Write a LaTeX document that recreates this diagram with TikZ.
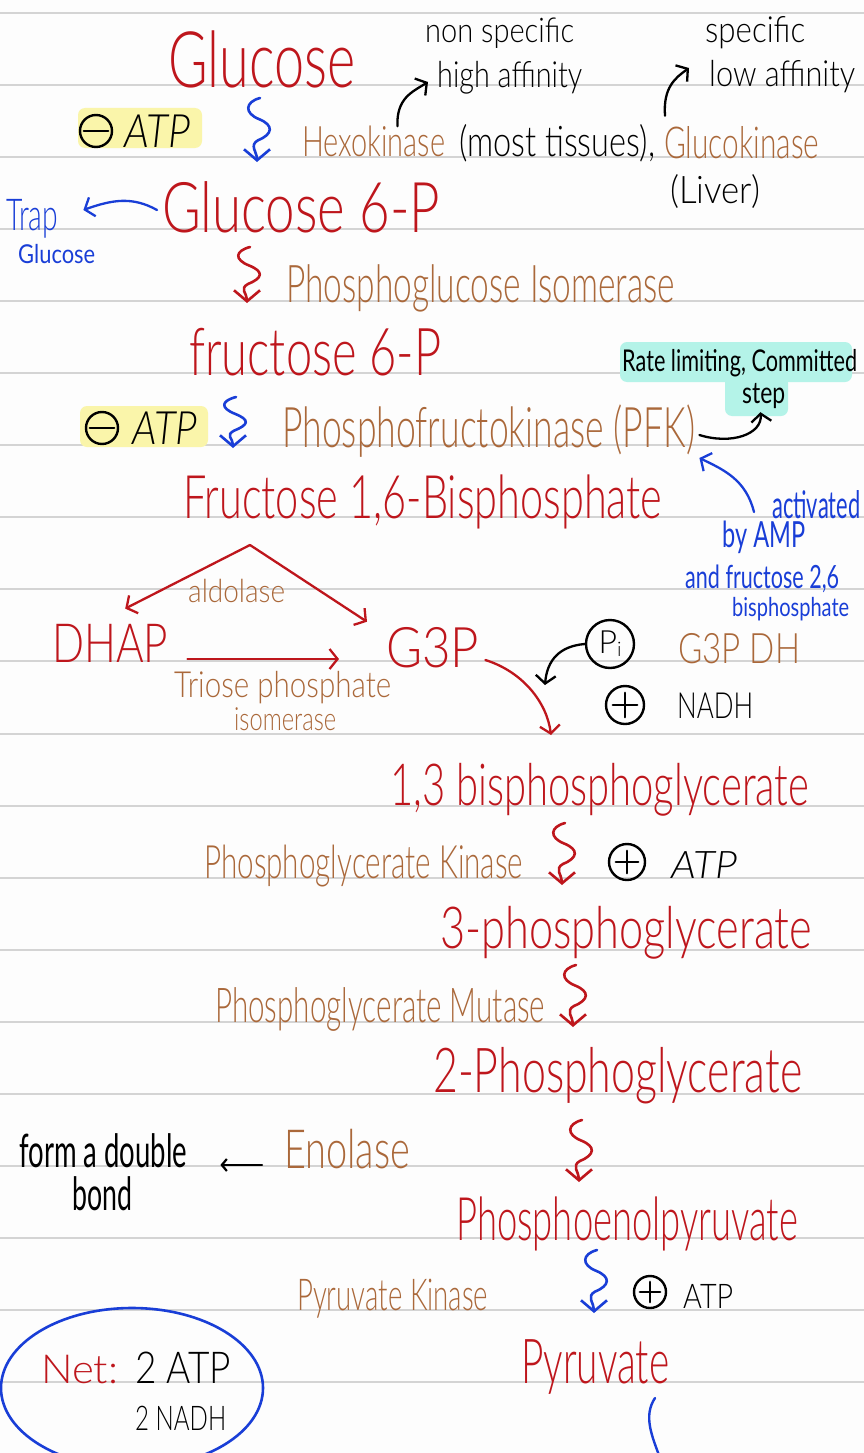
\documentclass[tikz,border=0pt]{standalone}
\usepackage{fontspec}
\setmainfont{Lato Light}
\newfontfamily\inkreg{Lato}
\usepackage{graphicx}
\usetikzlibrary{arrows.meta,calc,shapes.geometric}

\definecolor{inkred}{RGB}{190,22,28}
\definecolor{inkbrown}{RGB}{170,104,58}
\definecolor{inkblue}{RGB}{25,62,215}
\definecolor{hiyellow}{RGB}{250,245,170}
\definecolor{hiteal}{RGB}{180,243,232}
\definecolor{ruling}{RGB}{212,212,212}
\definecolor{paper}{RGB}{253,253,253}

% handwritten-looking word: width in px, font size in px, text
\newcommand\hw[3]{\resizebox{#1pt}{\height}{\fontsize{#2pt}{#2pt}\selectfont #3}}

\begin{document}
\begin{tikzpicture}[x=1pt,y=-1pt,line cap=round,line join=round,
  txt/.style={inner sep=0pt,anchor=base west},
  met/.style={txt,text=inkred},
  enz/.style={txt,text=inkbrown},
  note/.style={txt,text=black},
  bnote/.style={txt,text=inkblue},
  rule/.style={draw=ruling,line width=2pt},
  hly/.style={fill=hiyellow,rounded corners=7pt,inner sep=0pt},
  hlt/.style={fill=hiteal,rounded corners=7pt,inner sep=0pt},
  ring/.style={circle,draw=black,line width=2.4pt,inner sep=0pt},
  >={Straight Barb[length=8pt,width=20pt]},
  squig/.style={-{Straight Barb[length=11pt,width=26pt]},line width=2.6pt,
    to path={.. controls +(-15,4) and +(-15,-6) .. ($(\tikztostart)!0.33!(\tikztotarget)$)
      .. controls +(15,6) and +(15,-6) .. ($(\tikztostart)!0.66!(\tikztotarget)$)
      .. controls +(-9,5) and +(0,-10) .. (\tikztotarget)}},
  redarr/.style={->,draw=inkred,line width=2.3pt},
  blkarr/.style={->,draw=black,line width=2.3pt},
  bluarr/.style={->,draw=inkblue,line width=2.3pt}]

% paper and ruling
\fill[paper] (0,0) rectangle (864,1453);
\useasboundingbox (0,0) rectangle (864,1453);
\foreach \k in {0,...,20}
  \draw[rule] (0,{13+72.05*\k}) -- (864,{13+72.05*\k});

% highlighter marks
\node[hly,minimum width=124pt,minimum height=40pt] (hl1) at (140,128) {};
\node[hly,minimum width=128pt,minimum height=41pt] (hl2) at (144,426.5) {};
\node[hlt,minimum width=232pt,minimum height=40pt] (ratebox) at (736,362) {};
\node[hlt,minimum width=63pt,minimum height=40pt] (stepbox) at (756.5,396) {};

% metabolites
\node[met] (glc)  at (168,88)   {\hw{187}{78}{Glucose}};
\node[met] (g6p)  at (162,232)  {\hw{278}{70}{Glucose 6-P}};
\node[met] (f6p)  at (189,375)  {\hw{252}{66}{fructose 6-P}};
\node[met] (f16)  at (183,518)  {\hw{479}{60}{Fructose 1,6-Bisphosphate}};
\node[met] (dhap) at (52,662)   {\hw{116}{54}{DHAP}};
\node[met] (g3p)  at (386,667)  {\hw{93}{56}{G3P}};
\node[met] (bpg)  at (390,805)  {\hw{419}{58}{1,3 bisphosphoglycerate}};
\node[met] (pg3)  at (440,948)  {\hw{372}{58}{3-phosphoglycerate}};
\node[met] (pg2)  at (433,1092) {\hw{369}{62}{2-Phosphoglycerate}};
\node[met] (pep)  at (456,1240) {\hw{342}{60}{Phosphoenolpyruvate}};
\node[met] (pyr)  at (521,1383) {\hw{148}{62}{Pyruvate}};

% enzymes
\node[enz] (hk)    at (302,157)  {\hw{143}{42}{Hexokinase}};
\node[enz] (gk)    at (664,158)  {\hw{155}{44}{Glucokinase}};
\node[enz] (pgi)   at (286,302)  {\hw{389}{52}{Phosphoglucose Isomerase}};
\node[enz] (pfk)   at (282,447)  {\hw{413}{56}{Phosphofructokinase (PFK)}};
\node[enz] (ald)   at (188,602)  {\hw{97}{32}{aldolase}};
\node[enz] (tpi1)  at (174,697)  {\hw{217}{36}{Triose phosphate}};
\node[enz] (tpi2)  at (234,730)  {\hw{102}{32}{isomerase}};
\node[enz] (g3pdh) at (678,663)  {\hw{122}{42}{G3P DH}};
\node[enz] (pgk)   at (204,878)  {\hw{319}{46}{Phosphoglycerate Kinase}};
\node[enz] (pgm)   at (215,1022) {\hw{330}{48}{Phosphoglycerate Mutase}};
\node[enz] (eno)   at (284,1168) {\hw{126}{54}{Enolase}};
\node[enz] (pk)    at (297,1310) {\hw{191}{44}{Pyruvate Kinase}};

% black notes
\node[note] (nonspec) at (425,43)  {\hw{149}{34}{non specific}};
\node[note] (hiaff)   at (437,88)  {\hw{145}{36}{high affinity}};
\node[note] (spec)    at (705,43)  {\hw{100}{36}{specific}};
\node[note] (lowaff)  at (709,87)  {\hw{146}{36}{low affinity}};
\node[note] (most)    at (459,157) {\hw{196}{42}{(most tissues),}};
\node[note] (liver)   at (670,203) {\hw{90}{38}{(Liver)}};
\node[note] (atp1)    at (124,148) {\hw{66}{46}{\itshape ATP}};
\node[note] (atp2)    at (132,444) {\hw{65}{46}{\itshape ATP}};
\node[note] (rate)    at (622,371) {\hw{235}{30}{\inkreg Rate limiting, Committed}};
\node[note] (step)    at (742,403) {\hw{43}{30}{\inkreg step}};
\node[note] (nadh)    at (677,718) {\hw{76}{36}{NADH}};
\node[note] (atp3)    at (671,878) {\hw{66}{38}{\itshape ATP}};
\node[note] (dbl)     at (19,1167) {\hw{168}{46}{\inkreg form a double}};
\node[note] (bond)    at (72,1210) {\hw{60}{46}{\inkreg bond}};
\node[note] (atp4)    at (683,1308) {\hw{50}{34}{ATP}};

% blue notes
\node[bnote] (trap)    at (6,230)   {\hw{52}{44}{Trap}};
\node[bnote] (trapglc) at (18,263)  {\hw{77}{26}{\inkreg Glucose}};
\node[bnote] (act)     at (772,518) {\hw{88}{38}{\inkreg activated}};
\node[bnote] (byamp)   at (722,547) {\hw{83}{36}{\inkreg by AMP}};
\node[bnote] (andfr)   at (685,588) {\hw{154}{32}{\inkreg and fructose 2,6}};
\node[bnote] (bisp)    at (732,616) {\hw{117}{26}{\inkreg bisphosphate}};

% net yield
\node[ellipse,draw=inkblue,line width=2.6pt,minimum width=262pt,minimum height=160pt,inner sep=0pt] (netbox) at (132,1388) {};
\node[met]  (net)  at (41,1383)  {\hw{77}{40}{Net:}};
\node[note] (net2) at (135,1383) {\hw{96}{44}{2 ATP}};
\node[note] (net3) at (135,1430) {\hw{91}{34}{2 NADH}};

% circled signs
\node[ring,minimum size=32pt] (om1) at (96,131) {};
\draw[line width=2.4pt] ([xshift=5pt]om1.west) -- ([xshift=-5pt]om1.east);
\node[ring,minimum size=32pt] (om2) at (102,428) {};
\draw[line width=2.4pt] ([xshift=5pt]om2.west) -- ([xshift=-5pt]om2.east);
\node[ring,minimum size=38pt] (op1) at (625,705) {};
\draw[line width=2.4pt] ([xshift=8pt]op1.west) -- ([xshift=-8pt]op1.east)
  ([yshift=-8pt]op1.north) -- ([yshift=8pt]op1.south);
\node[ring,minimum size=36pt] (op2) at (627,862) {};
\draw[line width=2.4pt] ([xshift=8pt]op2.west) -- ([xshift=-8pt]op2.east)
  ([yshift=-8pt]op2.north) -- ([yshift=8pt]op2.south);
\node[ring,minimum size=32pt] (op3) at (650,1292) {};
\draw[line width=2.2pt] ([xshift=7pt]op3.west) -- ([xshift=-7pt]op3.east)
  ([yshift=-7pt]op3.north) -- ([yshift=7pt]op3.south);
\node[ring,minimum size=48pt] (pi) at (610,644)
  {\fontsize{32pt}{32pt}\selectfont P\raisebox{-3pt}{\fontsize{20pt}{20pt}\selectfont i}};

% squiggly reaction arrows
\coordinate (s1a) at (260,98);   \coordinate (s1b) at (257,162);
\coordinate (s2a) at (250,247);  \coordinate (s2b) at (247,303);
\coordinate (s3a) at (236,397);  \coordinate (s3b) at (233,448);
\coordinate (s4a) at (565,823);  \coordinate (s4b) at (562,885);
\coordinate (s5a) at (576,965);  \coordinate (s5b) at (573,1027);
\coordinate (s6a) at (582,1120); \coordinate (s6b) at (579,1182);
\coordinate (s7a) at (597,1250); \coordinate (s7b) at (594,1313);
\draw[squig,draw=inkblue] (s1a) to (s1b);
\draw[squig,draw=inkred]  (s2a) to (s2b);
\draw[squig,draw=inkblue] (s3a) to (s3b);
\draw[squig,draw=inkred]  (s4a) to (s4b);
\draw[squig,draw=inkred]  (s5a) to (s5b);
\draw[squig,draw=inkred]  (s6a) to (s6b);
\draw[squig,draw=inkblue] (s7a) to (s7b);

% annotations of the kinases
\draw[blkarr] ($(hk.north east)+(-48,0)$) .. controls +(-1,-28) and +(-16,10) .. ($(hiaff.base west)+(-9,-6)$);
\draw[blkarr] ($(gk.north west)+(1,-10)$) .. controls +(-2,-28) and +(-14,10) .. ($(lowaff.base west)+(-20,-19)$);
\draw[bluarr] ($(g6p.base west)+(-5,-22)$) .. controls +(-25,-14) and +(28,-10) .. ($(trap.base east)+(25,-20)$);

% PFK regulation
\draw[blkarr] ($(pfk.base east)+(4,-12)$) .. controls +(32,10) and +(2,22) .. ($(stepbox.south)+(4,-4)$);
\draw[bluarr] ($(act.base west)+(-18,-6)$) .. controls +(-8,-32) and +(25,12) .. ($(pfk.base east)+(4,11)$);

% aldolase split
\coordinate (apex) at ($(f16.base west)+(67,27)$);
\draw[redarr] (apex) -- ($(dhap.north)+(15,-15)$);
\draw[redarr] (apex) -- ($(g3p.north west)+(-19,-5)$);
\draw[redarr] ($(dhap.base east)+(19,-3)$) -- ($(g3p.base west)+(-47,-8)$);

% G3P to 1,3-bisphosphoglycerate
\draw[redarr] ($(g3p.base east)+(6,-7)$) .. controls +(38,12) and +(-4,-32) .. ($(bpg.base west)+(161,-70)$);
\draw[blkarr] (pi.west) .. controls +(-25,2) and +(2,-25) .. ($(bpg.base west)+(155,-120)$);

% enolase note
\draw[->,line width=2.2pt,>={Straight Barb[length=5pt,width=12pt]}] ($(eno.base west)+(-22,-3)$) -- ($(dbl.base east)+(33,-2)$);

% arrow leaving pyruvate
\coordinate (arcA) at ($(pyr.base west)+(134,15)$);
\coordinate (arcB) at ($(pyr.base west)+(139,75)$);
\draw[draw=inkblue,line width=2.4pt] (arcA) .. controls +(-12,18) and +(-8,-22) .. (arcB);
\end{tikzpicture}
\end{document}
